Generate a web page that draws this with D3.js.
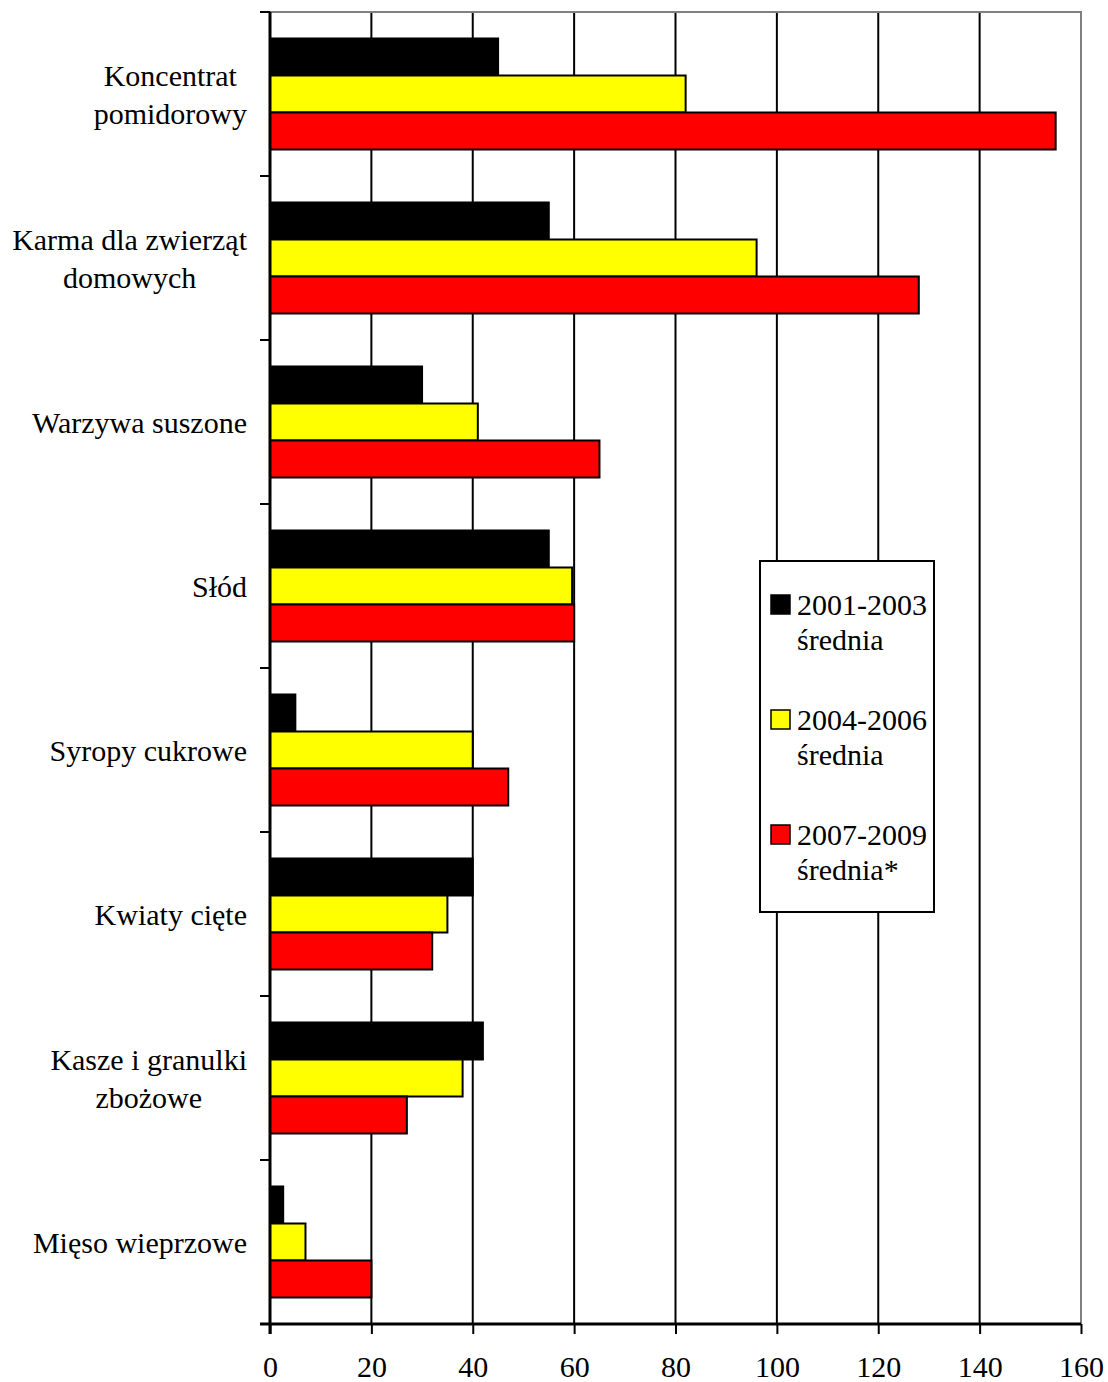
<!DOCTYPE html>
<html>
<head>
<meta charset="utf-8">
<script src="https://cdn.jsdelivr.net/npm/d3@7"></script>
<style>
  body { margin: 0; background: #fff; }
  text { font-family: "Liberation Serif", "Times New Roman", serif; fill: #000; }
</style>
</head>
<body>
<div id="chart"></div>
<script>
// Data
var categories = [
    ["Koncentrat", "pomidorowy"],
    ["Karma dla zwierząt", "domowych"],
    ["Warzywa suszone"],
    ["Słód"],
    ["Syropy cukrowe"],
    ["Kwiaty cięte"],
    ["Kasze i granulki", "zbożowe"],
    ["Mięso wieprzowe"]
];
var seriesNames = [
    ["2001-2003", "średnia"],
    ["2004-2006", "średnia"],
    ["2007-2009", "średnia*"]
];
var seriesColors = ["#000000", "#ffff00", "#ff0000"];
var values2001 = [45, 55, 30, 55, 5, 40, 42, 2.6];
var values2004 = [82, 96, 41, 59.6, 40, 35, 38, 7];
var values2007 = [155, 128, 65, 60, 47, 32, 27, 20];
var xTicks = [0, 20, 40, 60, 80, 100, 120, 140, 160];

var allValues = [values2001, values2004, values2007];

// Layout
var W = 1108, H = 1382;
var plot = {left: 270, right: 1081, top: 12, bottom: 1324};
var fontSize = 30;

var svg = d3.select("#chart").append("svg")
    .attr("width", W)
    .attr("height", H);

var x = d3.scaleLinear().domain([0, 160]).range([plot.left, plot.right]);
var y = d3.scaleBand()
    .domain(d3.range(categories.length))
    .range([plot.top, plot.bottom])
    .padding(0);
var ySub = d3.scaleBand()
    .domain(d3.range(seriesNames.length))
    .range([0, y.bandwidth()])
    .paddingInner(0)
    .paddingOuter(0.716);

// Gridlines
svg.append("g")
    .selectAll("line")
    .data(xTicks.slice(1, -1))
    .enter().append("line")
    .attr("x1", function(d) { return x(d); })
    .attr("x2", function(d) { return x(d); })
    .attr("y1", plot.top)
    .attr("y2", plot.bottom)
    .attr("stroke", "#000")
    .attr("stroke-width", 2);

// Top and right frame (gray)
svg.append("path")
    .attr("d", "M" + plot.left + "," + plot.top + "H" + plot.right + "V" + plot.bottom)
    .attr("fill", "none")
    .attr("stroke", "#808080")
    .attr("stroke-width", 2);

// Bars
var groups = svg.selectAll(".cat")
    .data(categories)
    .enter().append("g")
    .attr("class", "cat")
    .attr("transform", function(d, i) { return "translate(0," + y(i) + ")"; });

groups.each(function(cat, ci) {
    d3.select(this).selectAll("rect")
        .data(allValues.map(function(vals, si) { return {s: si, v: vals[ci]}; }))
        .enter().append("rect")
        .attr("x", x(0))
        .attr("y", function(d) { return ySub(d.s); })
        .attr("width", function(d) { return x(d.v) - x(0); })
        .attr("height", ySub.bandwidth())
        .attr("fill", function(d) { return seriesColors[d.s]; })
        .attr("stroke", "#000")
        .attr("stroke-width", 2);
});

// X axis
var xAxis = svg.append("g")
    .attr("transform", "translate(0," + plot.bottom + ")")
    .call(d3.axisBottom(x).tickValues(xTicks).tickSize(10).tickPadding(22).tickFormat(d3.format("d")));
xAxis.select(".domain").attr("stroke", "#000").attr("stroke-width", 3)
    .attr("d", "M" + (plot.left - 10) + ",0H" + plot.right);
xAxis.selectAll(".tick line").attr("stroke", "#000").attr("stroke-width", 2);
xAxis.selectAll(".tick text")
    .style("font-family", "'Liberation Serif', 'Times New Roman', serif")
    .style("font-size", fontSize + "px")
    .attr("fill", "#000");

// Y axis line and ticks at band boundaries
svg.append("line")
    .attr("x1", plot.left).attr("x2", plot.left)
    .attr("y1", plot.top).attr("y2", plot.bottom + 10)
    .attr("stroke", "#000").attr("stroke-width", 3);
var boundaries = d3.range(categories.length + 1).map(function(i) {
    return plot.top + i * y.step();
});
svg.append("g").selectAll("line")
    .data(boundaries)
    .enter().append("line")
    .attr("x1", plot.left - 10).attr("x2", plot.left)
    .attr("y1", function(d) { return d; })
    .attr("y2", function(d) { return d; })
    .attr("stroke", "#000").attr("stroke-width", 2);

// Category labels: block right-aligned, lines centered inside block
var labelRight = 247, lineGap = 38;
categories.forEach(function(lines, ci) {
    var mid = y(ci) + y.bandwidth() / 2;
    var g = svg.append("g");
    var texts = lines.map(function(line, li) {
        return g.append("text")
            .attr("y", mid + (li - (lines.length - 1) / 2) * lineGap)
            .attr("dy", "0.35em")
            .style("font-size", fontSize + "px")
            .attr("text-anchor", "middle")
            .text(line);
    });
    var maxW = d3.max(texts, function(t) { return t.node().getComputedTextLength(); });
    texts.forEach(function(t) { t.attr("x", labelRight - maxW / 2); });
});

// Legend
var legend = {x: 760, y: 561, w: 174, h: 351};
svg.append("rect")
    .attr("x", legend.x).attr("y", legend.y)
    .attr("width", legend.w).attr("height", legend.h)
    .attr("fill", "#fff")
    .attr("stroke", "#000")
    .attr("stroke-width", 2);

var items = svg.selectAll(".legend")
    .data(seriesNames)
    .enter().append("g")
    .attr("class", "legend")
    .attr("transform", function(d, i) {
        return "translate(" + legend.x + "," + (legend.y + 43 + i * 115) + ")";
    });

items.append("rect")
    .attr("x", 11).attr("y", -9)
    .attr("width", 19).attr("height", 19)
    .attr("fill", function(d, i) { return seriesColors[i]; })
    .attr("stroke", "#000")
    .attr("stroke-width", 1.5);

items.each(function(lines) {
    var g = d3.select(this);
    lines.forEach(function(line, li) {
        g.append("text")
            .attr("x", 37)
            .attr("y", li * 35)
            .attr("dy", "0.35em")
            .style("font-size", fontSize + "px")
            .text(line);
    });
});
</script>
</body>
</html>
